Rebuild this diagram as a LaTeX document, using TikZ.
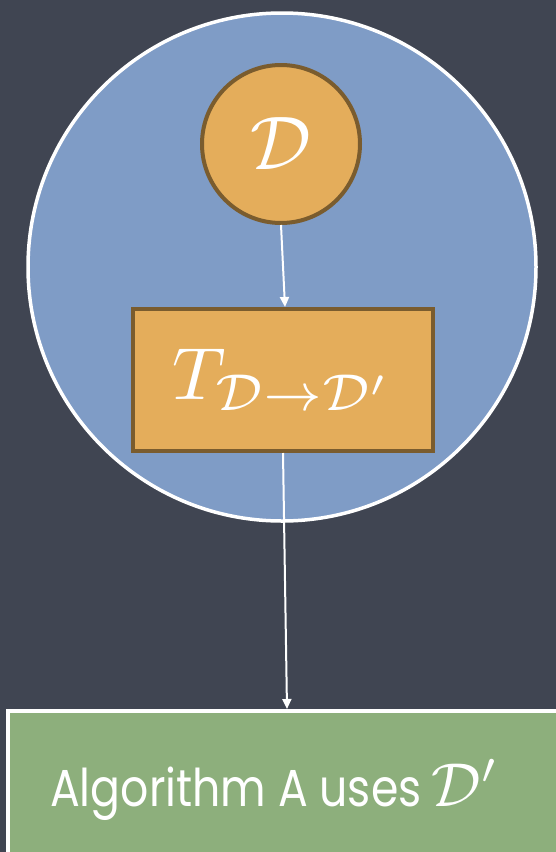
\documentclass[tikz,border=0pt]{standalone}
\usepackage{fontspec}
\newfontfamily\handfont{Poppins}
\usetikzlibrary{arrows.meta}
\definecolor{bg}{HTML}{404552}
\definecolor{bluefill}{HTML}{7F9CC6}
\definecolor{orangefill}{HTML}{E4AD5B}
\definecolor{brownline}{HTML}{7A5C2E}
\definecolor{greenfill}{HTML}{8DAF7C}
\tikzset{
  bigdisc/.style={circle, draw=white, line width=3.5pt, fill=bluefill, minimum size=508pt, inner sep=0pt},
  orangedisc/.style={circle, draw=brownline, line width=4pt, fill=orangefill, minimum size=158pt, inner sep=0pt, text=white},
  orangebox/.style={rectangle, draw=brownline, line width=4pt, fill=orangefill, minimum width=300pt, minimum height=142pt, inner sep=0pt, text=white},
  greenbox/.style={rectangle, draw=white, line width=4pt, fill=greenfill, minimum width=552pt, minimum height=148pt, inner sep=0pt},
  wtext/.style={text=white, inner sep=0pt},
  conn/.style={draw=white, line width=2pt, -{Triangle[length=10pt,width=9pt]}}
}
\begin{document}
\begin{tikzpicture}[x=1pt,y=1pt]
\useasboundingbox (0,0) rectangle (556,-852);
\fill[bg] (0,0) rectangle (556,-852);
\node[bigdisc] (big) at (282,-267) {};
\node[orangedisc] (D) at (281,-144) {\scalebox{7.6}{$\mathcal{D}$}};
\node[orangebox] (T) at (283,-380) {\scalebox{7.4}{$T_{\mathcal{D}\rightarrow\mathcal{D}'}$}};
\node[greenbox] (G) at (284,-785) {};
\node[wtext, anchor=base west] (Glabel) at (50,-806) {\scalebox{0.85}[1]{\handfont\fontsize{52}{60}\selectfont Algorithm A uses}\hspace{10pt}\scalebox{6.2}{\normalsize$\mathcal{D}'$}};
\draw[conn] (D.south) -- ([xshift=2pt]T.north);
\draw[conn] (T.south) -- ([xshift=3pt]G.north);
\end{tikzpicture}
\end{document}
